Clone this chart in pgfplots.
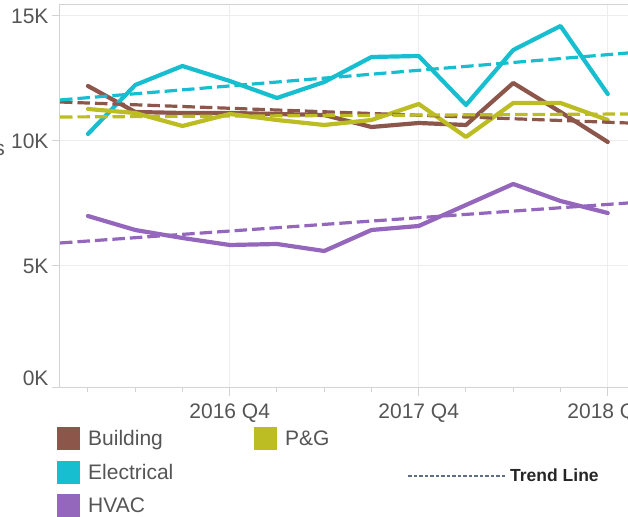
\documentclass[border=0pt]{standalone}
\usepackage{fontspec}
\setmainfont{Liberation Sans}
\usepackage{pgfplots}
\pgfplotsset{compat=1.18}
\definecolor{cBuild}{HTML}{8C564B}
\definecolor{cElec}{HTML}{17BECF}
\definecolor{cHvac}{HTML}{9467BD}
\definecolor{cPG}{HTML}{BCBD22}
\definecolor{gridc}{HTML}{EDEDED}
\definecolor{axisc}{HTML}{D3D3D3}
\definecolor{textc}{HTML}{555555}
\definecolor{trendc}{HTML}{5E6E84}
\begin{document}
\begin{tikzpicture}[x=1bp,y=1bp,font=\fontsize{21bp}{25bp}\selectfont]
\begin{axis}[
  at={(0,0)}, anchor=south west,
  scale only axis, width=575bp, height=383bp,
  xmin=-0.592, xmax=11.577, ymin=120, ymax=15440,
  xtick={3,7,11}, xticklabels={2016 Q4,2017 Q4,2018 Q4},
  minor xtick={0,1,2,4,5,6,8,9,10},
  ytick={120,5000,10000,15000},
  yticklabels={\raisebox{19bp}{0K},5K,10K,15K},
  xmajorgrids, ymajorgrids,
  grid style={color=gridc, line width=1bp},
  tick align=outside, tick pos=left,
  major tick length=8bp, minor tick length=4bp,
  tick style={color=axisc, line width=1bp},
  axis line style={color=axisc, line width=1bp},
  ticklabel style={color=textc, font=\fontsize{21bp}{25bp}\selectfont},
  xticklabel style={yshift=-4bp},
  every axis plot/.append style={line join=round, line cap=round},
]
\addplot[cBuild, line width=4.2bp] coordinates {(0,12200)(1,11160)(2,11120)(3,11120)(4,11080)(5,11040)(6,10560)(7,10720)(8,10640)(9,12320)(10,11160)(11,9960)};
\addplot[cElec, line width=4.2bp] coordinates {(0,10280)(1,12240)(2,13000)(3,12400)(4,11720)(5,12360)(6,13360)(7,13400)(8,11440)(9,13640)(10,14600)(11,11880)};
\addplot[cHvac, line width=4.2bp] coordinates {(0,7000)(1,6440)(2,6120)(3,5840)(4,5880)(5,5600)(6,6440)(7,6600)(8,7440)(9,8280)(10,7600)(11,7120)};
\addplot[cPG, line width=4.2bp] coordinates {(0,11280)(1,11120)(2,10600)(3,11080)(4,10840)(5,10640)(6,10840)(7,11480)(8,10160)(9,11520)(10,11520)(11,10840)};
% trend lines
\addplot[cBuild, line width=3.2bp, dash pattern=on 12.5bp off 5bp, line cap=butt] coordinates {(-0.592,11560)(11.577,10710)};
\addplot[cElec, line width=3.2bp, dash pattern=on 12.5bp off 5bp, line cap=butt] coordinates {(-0.592,11640)(11.577,13544)};
\addplot[cHvac, line width=3.2bp, dash pattern=on 12.5bp off 5bp, line cap=butt] coordinates {(-0.592,5920)(11.577,7540)};
\addplot[cPG, line width=3.2bp, dash pattern=on 12.5bp off 5bp, line cap=butt] coordinates {(-0.592,10960)(11.577,11082)};
\end{axis}
% cut-off axis title
\node[anchor=base east, inner sep=0pt, text=textc] at (-55,232) {Costs};
% legend
\fill[cBuild] (-3,-39) rectangle (20,-62);
\fill[cElec] (-3,-73) rectangle (20,-96);
\fill[cHvac] (-3,-106) rectangle (20,-129);
\fill[cPG] (194,-39) rectangle (217,-62);
\node[anchor=base west, inner sep=0pt, text=textc] at (28,-57.5) {Building};
\node[anchor=base west, inner sep=0pt, text=textc] at (28,-91.5) {Electrical};
\node[anchor=base west, inner sep=0pt, text=textc] at (28,-124.5) {HVAC};
\node[anchor=base west, inner sep=0pt, text=textc] at (225,-57.5) {P\&G};
\draw[trendc, line width=1.4bp, dash pattern=on 3.5bp off 2bp] (348,-88) -- (445,-88);
\node[anchor=base west, inner sep=0pt, text=black!85, font=\fontsize{17.5bp}{20bp}\selectfont\bfseries] at (450,-94) {Trend Line};
\pgfresetboundingbox
\useasboundingbox (-60,-129) rectangle (568,388);
\end{tikzpicture}
\end{document}
